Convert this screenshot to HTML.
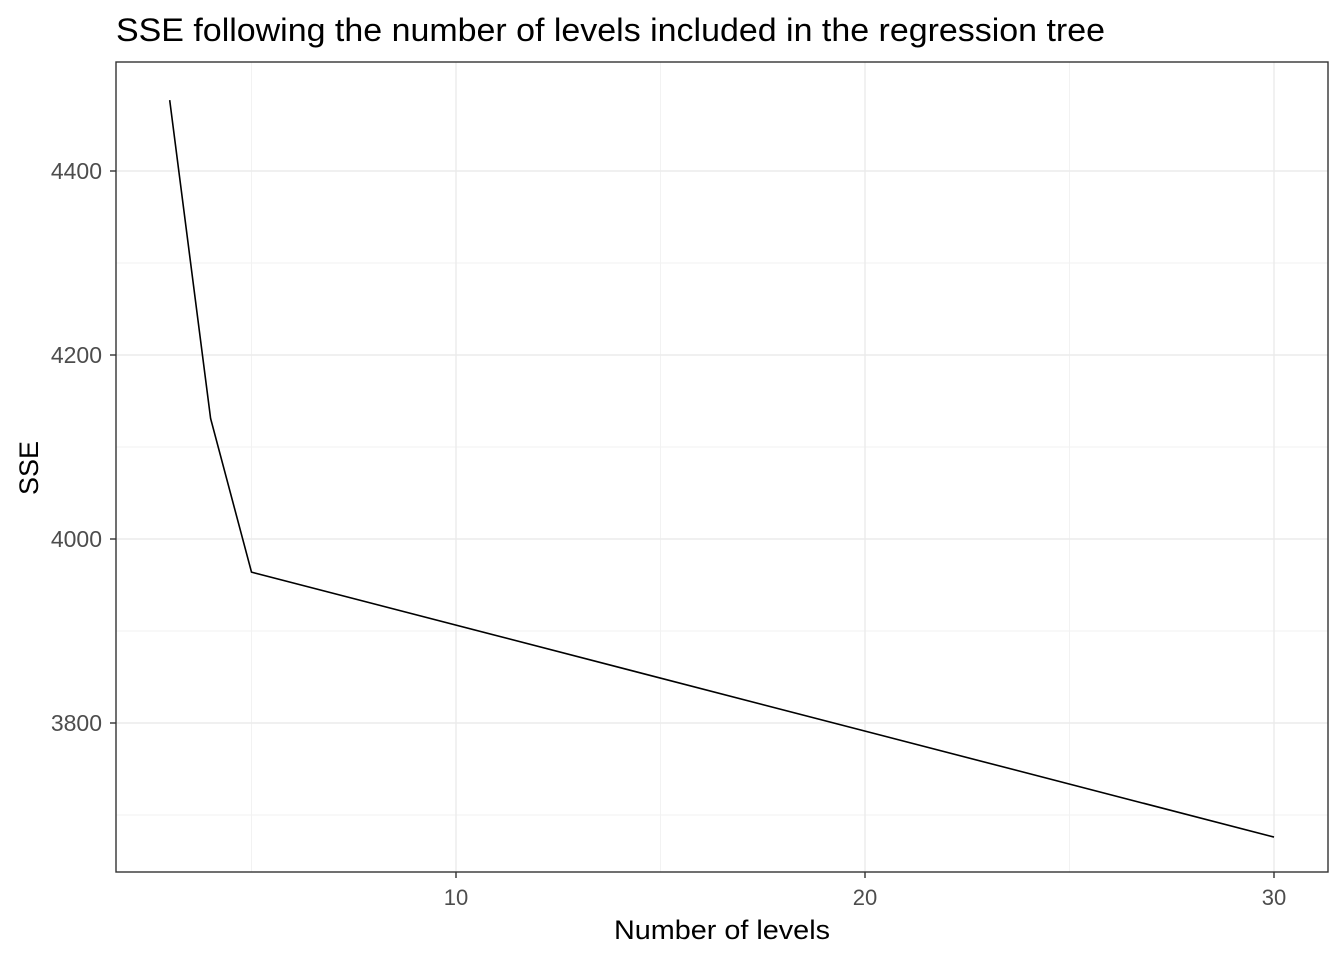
<!DOCTYPE html>
<html><head><meta charset="utf-8"><style>
body{margin:0;background:#fff;}
svg text{font-family:"Liberation Sans",Arial,sans-serif;}
</style></head><body>
<svg width="1344" height="960" xmlns="http://www.w3.org/2000/svg">
<rect width="1344" height="960" fill="#fff"/>
<text x="116" y="41" font-size="32" textLength="989" lengthAdjust="spacingAndGlyphs" fill="#000">SSE following the number of levels included in the regression tree</text>
<g id="grid"></g>
<g id="line"></g>
<rect x="116" y="62" width="1212" height="810" fill="none" stroke="#333" stroke-width="1.4"/>
<g id="axes"></g>
<text x="614" y="939" font-size="27" textLength="216" lengthAdjust="spacingAndGlyphs">Number of levels</text>
<text transform="translate(38,468) rotate(-90)" font-size="27" text-anchor="middle">SSE</text>
</svg>
<script>
const levels=[3,4,5,30];
const sse=[4477,4131,3964,3676];
const xTicks=[10,20,30];
const xMinor=[5,15,25];
const yTicks=[3800,4000,4200,4400];
const yMinor=[3700,3900,4100,4300];
const NS="http://www.w3.org/2000/svg";
const xs=v=>456+(v-10)*40.9;
const ys=v=>171+(4400-v)*0.92;
const L=116,R=1328,T=62,B=872;
const grid=document.getElementById('grid'),axes=document.getElementById('axes'),lineG=document.getElementById('line');
function mk(tag,attrs,parent){const e=document.createElementNS(NS,tag);for(const k in attrs)e.setAttribute(k,attrs[k]);parent.appendChild(e);return e;}
xMinor.forEach(v=>{const e=mk('line',{x1:xs(v),x2:xs(v),y1:T,y2:B,stroke:'#f2f2f2','stroke-width':1},grid);

});
yMinor.forEach(v=>{const e=mk('line',{x1:L,x2:R,y1:ys(v),y2:ys(v),stroke:'#f2f2f2','stroke-width':1},grid);

});
xTicks.forEach(v=>{const e=mk('line',{x1:xs(v),x2:xs(v),y1:T,y2:B,stroke:'#ebebeb','stroke-width':1.4},grid);


const t=mk('line',{x1:xs(v),x2:xs(v),y1:B,y2:B+6,stroke:'#333','stroke-width':1.4},axes);


const l=mk('text',{x:xs(v),y:905,'font-size':22,'text-anchor':'middle',fill:'#4d4d4d'},axes);l.textContent=v;

});
yTicks.forEach(v=>{const e=mk('line',{x1:L,x2:R,y1:ys(v),y2:ys(v),stroke:'#ebebeb','stroke-width':1.4},grid);


const t=mk('line',{x1:L-6,x2:L,y1:ys(v),y2:ys(v),stroke:'#333','stroke-width':1.4},axes);


const l=mk('text',{x:L-14,y:ys(v)+8,'font-size':23,'text-anchor':'end',fill:'#4d4d4d'},axes);l.textContent=v;

});
const p=mk('polyline',{points:levels.map((v,i)=>xs(v)+','+ys(sse[i])).join(' '),fill:'none',stroke:'#000','stroke-width':1.6},lineG);


</script>
</body></html>
